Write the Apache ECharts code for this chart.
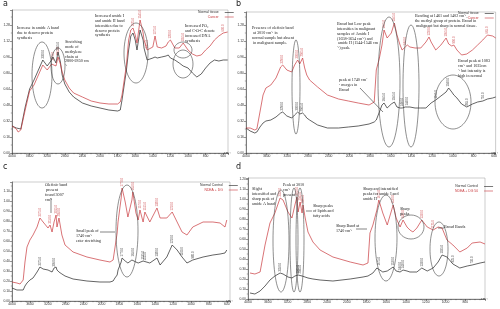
<!DOCTYPE html>
<html><head><meta charset="utf-8">
<script src="https://cdn.jsdelivr.net/npm/echarts@6/dist/echarts.min.js"></script>
<style>html,body{margin:0;padding:0;background:#fff}#c{width:500px;height:309px}</style>
</head><body><div id="c"></div>
<script>
// ---------- DATA (wavenumber cm-1, absorbance-like units) ----------
const aWn = [4000,3900,3860,3800,3700,3600,3500,3400,3300,3200,3100,3070,3000,2955,2900,2860,2800,2700,2600,2400,2200,2000,1900,1800,1770,1750,1725,1700,1675,1650,1625,1600,1580,1545,1510,1500,1465,1450,1400,1375,1350,1300,1250,1225,1200,1150,1100,1055,1000,950,900,850,800,750,700,650,600,550];
const aBlack = [0.27,0.25,0.23,0.24,0.46,0.64,0.73,0.83,0.93,0.87,0.93,0.96,0.90,1.01,0.91,0.78,0.69,0.61,0.56,0.50,0.47,0.45,0.43,0.42,0.43,0.53,0.68,0.83,1.03,1.17,1.20,1.13,1.03,1.23,1.13,1.05,0.93,0.91,0.95,0.96,0.95,0.96,0.97,0.98,0.95,0.93,0.90,0.87,0.85,0.80,0.76,0.79,0.85,0.90,0.93,0.92,0.93,0.93];
const aRed = [0.27,0.24,0.21,0.23,0.43,0.62,0.68,0.78,0.88,0.83,0.89,0.91,0.87,0.96,0.89,0.81,0.73,0.65,0.60,0.56,0.52,0.50,0.49,0.49,0.51,0.58,0.73,0.88,1.13,1.23,1.25,1.18,1.10,1.33,1.20,1.13,1.03,1.03,1.06,1.17,1.06,1.05,1.07,1.11,1.13,1.05,1.05,1.10,1.03,0.99,0.97,0.98,1.03,1.07,1.13,1.17,1.20,1.21];
const aRedPeaks = [3070,2955,1625,1545,1465,1375,1200,1055,600];
const aBlackPeaks = [3300,2955];

const bWn = [4000,3920,3830,3790,3730,3670,3615,3520,3420,3330,3290,3210,3115,3060,3000,2960,2905,2865,2825,2770,2615,2425,2210,2020,1915,1810,1760,1740,1710,1685,1665,1635,1595,1565,1540,1510,1490,1460,1440,1415,1365,1310,1260,1230,1210,1165,1115,1065,1040,1010,990,960,915,865,810,760,710,665,615,585];
const bRed = [0.25,0.25,0.23,0.24,0.41,0.58,0.65,0.68,0.75,0.86,0.88,0.83,0.81,0.88,0.93,0.89,0.95,0.85,0.78,0.73,0.66,0.58,0.54,0.52,0.50,0.48,0.51,0.83,0.95,1.08,1.23,1.15,1.20,1.30,1.18,1.08,1.03,1.06,1.08,1.06,1.05,1.05,1.11,1.16,1.11,1.03,1.08,1.15,1.09,1.07,1.08,1.03,0.98,0.99,1.03,1.08,1.13,1.18,1.17,1.15];
const bBlack = [0.25,0.22,0.20,0.21,0.26,0.30,0.32,0.33,0.36,0.40,0.41,0.37,0.35,0.38,0.41,0.39,0.40,0.38,0.35,0.33,0.28,0.25,0.25,0.26,0.27,0.29,0.31,0.33,0.41,0.48,0.50,0.45,0.49,0.51,0.46,0.45,0.45,0.46,0.46,0.46,0.45,0.45,0.45,0.48,0.50,0.53,0.57,0.61,0.65,0.61,0.58,0.55,0.49,0.46,0.49,0.51,0.52,0.54,0.55,0.56];
const bRedPeaks = [3290,3000,2905,1665,1565,1460,1230,1065,990,665];
const bBlackPeaks = [3290,3000,2905,1665,1565,1490,1440,1165,1040,865,710];

const cWn = [4000,3890,3820,3750,3710,3665,3600,3530,3440,3375,3305,3195,3150,3105,3060,3015,2995,2950,2885,2815,2635,2325,2035,1905,1870,1850,1825,1815,1780,1770,1735,1705,1660,1650,1615,1590,1570,1535,1515,1460,1380,1345,1270,1210,1155,1100,1045,980,865,755,675,620,600];
const cRed = [0.19,0.18,0.17,0.21,0.39,0.54,0.61,0.66,0.74,0.83,0.79,0.73,0.76,0.69,0.79,0.86,0.74,0.83,0.66,0.56,0.49,0.44,0.41,0.39,0.41,0.53,0.68,0.79,1.03,1.13,0.99,0.84,1.01,1.09,0.88,0.81,0.91,0.79,0.89,0.79,0.93,0.83,0.83,0.89,0.79,0.69,0.66,0.74,0.79,0.79,0.78,0.74,0.81];
const cBlack = [0.13,0.11,0.11,0.11,0.15,0.18,0.21,0.23,0.29,0.34,0.32,0.31,0.30,0.29,0.33,0.34,0.31,0.29,0.27,0.25,0.22,0.20,0.19,0.19,0.20,0.23,0.26,0.31,0.39,0.43,0.40,0.38,0.41,0.43,0.39,0.38,0.39,0.40,0.39,0.38,0.43,0.36,0.44,0.56,0.51,0.44,0.38,0.41,0.44,0.46,0.47,0.48,0.51];
const cRedPeaks = [3375,3150,3015,2950,1770,1650,1570,1515,1380,1210];
const cBlackPeaks = [3375,3060,1770,1650,1535,1515,1380,1210,1100,980];

const dWn = [3960,3860,3755,3655,3555,3455,3350,3290,3190,3110,3050,3010,2985,2945,2905,2885,2845,2785,2685,2540,2280,1965,1835,1785,1765,1735,1695,1675,1635,1590,1560,1530,1500,1460,1430,1390,1360,1330,1290,1240,1185,1125,1075,1035,985,925,855,780,730,650,600];
const dRed = [0.26,0.25,0.27,0.54,0.76,0.86,1.01,0.99,0.87,0.81,0.94,1.02,0.87,0.97,0.86,0.94,0.82,0.67,0.57,0.49,0.42,0.37,0.34,0.36,0.66,0.74,0.89,0.99,0.86,0.74,0.84,0.94,0.81,0.72,0.79,0.72,0.69,0.67,0.71,0.79,0.72,0.69,0.72,0.71,0.59,0.54,0.47,0.51,0.56,0.57,0.55];
const dBlack = [0.06,0.05,0.08,0.13,0.19,0.23,0.26,0.25,0.22,0.21,0.23,0.24,0.24,0.24,0.23,0.22,0.22,0.21,0.20,0.19,0.18,0.20,0.22,0.23,0.24,0.26,0.31,0.32,0.27,0.28,0.30,0.32,0.28,0.27,0.29,0.28,0.27,0.27,0.27,0.31,0.28,0.31,0.37,0.44,0.42,0.35,0.31,0.33,0.34,0.36,0.37];
const dRedPeaks = [3350,3010,2945,2885,1675,1530,1430,1240,1125];
const dBlackPeaks = [3350,2985,2945,1675,1530,1460,1430,1240,1035,925,730];

const legendNames = {
  a: ['Cancer', 'Normal tissue'],
  b: ['Cancer', 'Normal tissue'],
  c: ['NDEA + DG', 'Normal Control'],
  d: ['NDEA + DG 50', 'Normal Control']
};

// ---------- axis transform (x2 compressed scale above 2000 cm-1) ----------
function toU(w){ return w >= 2000 ? (4000 - w) / 400 : 5 + (2000 - w) / 200; }
function toW(u){ return u <= 5 ? 4000 - 400 * u : 2000 - 200 * (u - 5); }

const RED = '#c8383c', BLK = '#222';
const panels = [
  {k:'a', grid:{left:12, top:10, width:216, height:143}, umax:12.27, ymax:1.43, yint:0.16, wn:aWn, red:aRed, blk:aBlack, rp:aRedPeaks, bp:aBlackPeaks, legend:{left:198, top:11}},
  {k:'b', grid:{left:246, top:12, width:251, height:141}, umax:12.07, ymax:1.41, yint:0.16, wn:bWn, red:bRed, blk:bBlack, rp:bRedPeaks, bp:bBlackPeaks, legend:{left:458, top:12}},
  {k:'c', grid:{left:12, top:182, width:218, height:119}, umax:12.18, ymax:1.19, yint:0.1, wn:cWn, red:cRed, blk:cBlack, rp:cRedPeaks, bp:cBlackPeaks, legend:{left:200, top:184}},
  {k:'d', grid:{left:248, top:178, width:237, height:121}, umax:12, ymax:1.21, yint:0.1, wn:dWn, red:dRed, blk:dBlack, rp:dRedPeaks, bp:dBlackPeaks, legend:{left:455, top:185}}
];

const option = {animation:false, backgroundColor:'#fff', grid:[], xAxis:[], yAxis:[], series:[], legend:[], graphic:{elements:[]}};

function peakPoints(wn, vals, peaks){
  return peaks.map(p => {
    let bi = 0; wn.forEach((w,i)=>{ if (Math.abs(w-p) < Math.abs(wn[bi]-p)) bi = i; });
    return [toU(wn[bi]), vals[bi], wn[bi]];
  });
}

panels.forEach((p, i) => {
  option.grid.push(Object.assign({show:true, borderColor:'#999', borderWidth:0.5, backgroundColor:'#fff'}, p.grid));
  option.xAxis.push({type:'value', gridIndex:i, min:0, max:p.umax, interval:1,
    axisLine:{onZero:false, lineStyle:{color:'#333', width:0.6}},
    axisTick:{length:2, lineStyle:{width:0.5}},
    minorTick:{show:true, splitNumber:4, length:1.2, lineStyle:{color:'#333', width:0.4}},
    splitLine:{show:false},
    axisLabel:{fontSize:3.4, margin:2, color:'#333', showMaxLabel:false, formatter:v => String(Math.round(toW(v)))},
    name:'cm⁻¹', nameLocation:'end', nameGap:-4, nameTextStyle:{fontSize:3.4, color:'#333', padding:[12,0,0,0]}
  });
  option.yAxis.push({type:'value', gridIndex:i, min:0, max:p.ymax, interval:p.yint,
    axisLine:{show:true, lineStyle:{color:'#333', width:0.6}},
    axisTick:{show:true, length:2, lineStyle:{width:0.5}},
    minorTick:{show:true, splitNumber:2, length:1.2, lineStyle:{color:'#333', width:0.4}},
    splitLine:{show:false},
    axisLabel:{fontSize:3.4, margin:2, color:'#333', showMaxLabel:false, formatter:v => v.toFixed(2)}
  });
  const names = legendNames[p.k];
  option.series.push({name:names[1]+' ('+p.k+')', type:'line', xAxisIndex:i, yAxisIndex:i, showSymbol:false, symbol:'none',
    lineStyle:{color:BLK, width:0.7}, itemStyle:{color:BLK}, data:p.wn.map((w,j)=>[toU(w), p.blk[j]])});
  option.series.push({name:names[0]+' ('+p.k+')', type:'line', xAxisIndex:i, yAxisIndex:i, showSymbol:false, symbol:'none',
    lineStyle:{color:RED, width:0.7}, itemStyle:{color:RED}, data:p.wn.map((w,j)=>[toU(w), p.red[j]])});
  [[p.rp, p.red, RED],[p.bp, p.blk, BLK]].forEach(([pk, vals, col]) => {
    option.series.push({type:'scatter', xAxisIndex:i, yAxisIndex:i, symbolSize:0, silent:true,
      data: peakPoints(p.wn, vals, pk),
      label:{show:true, position:'top', distance:1.5, rotate:90, align:'left', verticalAlign:'middle',
        fontSize:2.8, color:col, formatter: q => q.value[2].toFixed(1)}});
  });
  option.legend.push({left:p.legend.left, top:p.legend.top, orient:'vertical', align:'right', icon:'rect',
    itemWidth:9, itemHeight:0.6, itemGap:1.5, padding:0, selectedMode:false,
    data:[{name:names[1]+' ('+p.k+')', textStyle:{color:'#333'}},{name:names[0]+' ('+p.k+')', textStyle:{color:RED}}],
    formatter: n => n.replace(/ \([abcd]\)$/, ''),
    textStyle:{fontSize:3.4, padding:[0,1,0,0]}});
});

// ---------- annotations ----------
const G = option.graphic.elements;
const ANNO_FONT = '4.1px "Liberation Serif"';
function T(x, y, w, text){ G.push({type:'text', x:x, y:y, z:100, style:{text:text, width:w, overflow:'break', font:ANNO_FONT, fill:'#222', lineHeight:4.7}}); }
function E(cx, cy, rx, ry){ G.push({type:'ellipse', z:90, shape:{cx:cx, cy:cy, rx:rx, ry:ry}, style:{fill:null, stroke:'#444', lineWidth:0.6}}); }
function L(x1, y1, x2, y2){ G.push({type:'line', z:90, shape:{x1:x1, y1:y1, x2:x2, y2:y2}, style:{stroke:'#333', lineWidth:0.6}}); }
function P(x, y, t){ G.push({type:'text', x:x, y:y, z:100, style:{text:t, font:'8px "DejaVu Sans"', fill:'#222'}}); }

P(3, 0, 'a'); P(236, 0, 'b'); P(3, 163, 'c'); P(236, 163, 'd');

// panel a
T(17, 26, 44, 'Increase in amide A band due to denovo protein synthesis');
T(65, 40, 25, 'Stretching mode of methylene chain at 2800-2850 cm⁻¹');
T(95, 14, 33, 'Increased amide I and amide II band intensities due to denovo protein synthesis');
T(185, 24, 32, 'Increased PO₂ and C-O-C denote increased DNA synthesis');
E(42, 75, 10, 33); E(58, 66, 7, 18); E(136, 53, 12, 30); E(183, 50, 9, 8); E(183, 64, 10, 14);

// panel b
T(252, 26, 42, 'Presence of olefinic band at 3010 cm⁻¹ in normal sample but absent in malignant sample.');
T(337, 22, 42, 'Broad but Low peak intensities in malignant samples of Amide I (1658-1654 cm⁻¹) and amide II (1544-1546 cm⁻¹) peak.');
T(415, 14, 62, 'Bending at 1461 and 1402 cm⁻¹, the methyl group of protein. Broad in malignant but sharp in normal tissue.');
T(458, 59, 37, 'Broad peak at 1083 cm⁻¹ and 1035cm⁻¹ but intensity is high in normal');
T(339, 78, 31, 'peak at 1740 cm⁻¹ merges in Broad');
L(360, 88, 383, 112);
E(296, 87, 4, 47); E(389, 82, 11, 65); E(411, 86, 8, 61); E(453, 102, 18, 27);

// panel c
T(45, 183, 23, 'Olefinic band present found 3007 cm⁻¹');
L(51, 198, 51, 213);
T(76, 229, 30, 'Small peak of 1740 cm⁻¹ ester stretching');
L(100, 232, 115, 232);
E(127, 231, 11, 46);

// panel d
T(252, 187, 28, 'Slight intensified and sharp peak of amide A band');
T(283, 183, 23, 'Peak at 3010 cm⁻¹ present');
T(313, 204, 23, 'Sharp peaks of lipids and fatty acids');
L(306, 211, 312, 211);
T(363, 187, 43, 'Sharp and intensified peaks for amide I and amide II');
T(400, 207, 15, 'Sharp peaks');
T(336, 224, 25, 'Sharp Band at 1740 cm⁻¹');
L(356, 229, 367, 229);
T(444, 225, 26, 'Broad Bands');
L(438, 228, 444, 228);
E(281, 241, 8, 51); E(294, 240, 4, 52); E(300, 240, 4, 52); E(386, 238, 11, 43); E(411, 227, 13, 12); E(439, 249, 9, 27);

const chart = echarts.init(document.getElementById('c'), null, {renderer:'canvas'});
chart.setOption(option);
</script>
</body></html>
